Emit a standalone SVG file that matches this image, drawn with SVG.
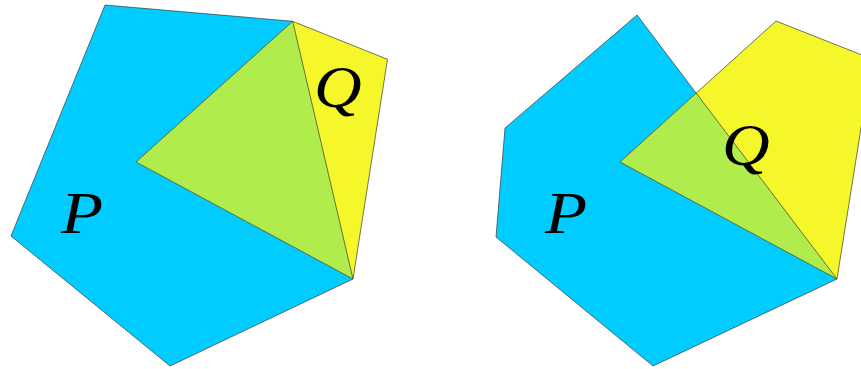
<svg xmlns="http://www.w3.org/2000/svg" width="861" height="369" viewBox="0 0 861 369">
<style>
.p{fill:#00ccff}
.q{fill:#f5f72a}
.pq{fill:#b0ec4c}
.e{fill:none;stroke:#3a3a3a;stroke-width:0.7;stroke-linejoin:miter}
.lbl{font-family:"Liberation Serif","DejaVu Serif",serif;font-style:italic;font-size:60px;fill:#000}
</style>
<g id="left">
<polygon class="p" points="105,5 292.7,21.3 353,279 170,366 11,236"/>
<polygon class="q" points="136,162 292.7,21.3 387.5,59.3 353,279"/>
<polygon class="pq" points="136,162 292.7,21.3 353,279"/>
<polygon class="e" points="105,5 292.7,21.3 353,279 170,366 11,236"/>
<polygon class="e" points="136,162 292.7,21.3 387.5,59.3 353,279"/>
<text class="lbl" transform="translate(61,233) scale(1.15,1)">P</text>
<text class="lbl" transform="translate(314,107) scale(1.1,1)">Q</text>
</g>
<g id="right">
<polygon class="p" points="637,15 837,279 653,366 496,237 505,128"/>
<polygon class="q" points="620,162 776,21 872,59 837,279"/>
<polygon class="pq" points="620,162 696.2,93.1 837,279"/>
<polygon class="e" points="637,15 837,279 653,366 496,237 505,128"/>
<polygon class="e" points="620,162 776,21 872,59 837,279"/>
<text class="lbl" transform="translate(545,233) scale(1.15,1)">P</text>
<text class="lbl" transform="translate(722,165) scale(1.1,1)">Q</text>
</g>
</svg>
